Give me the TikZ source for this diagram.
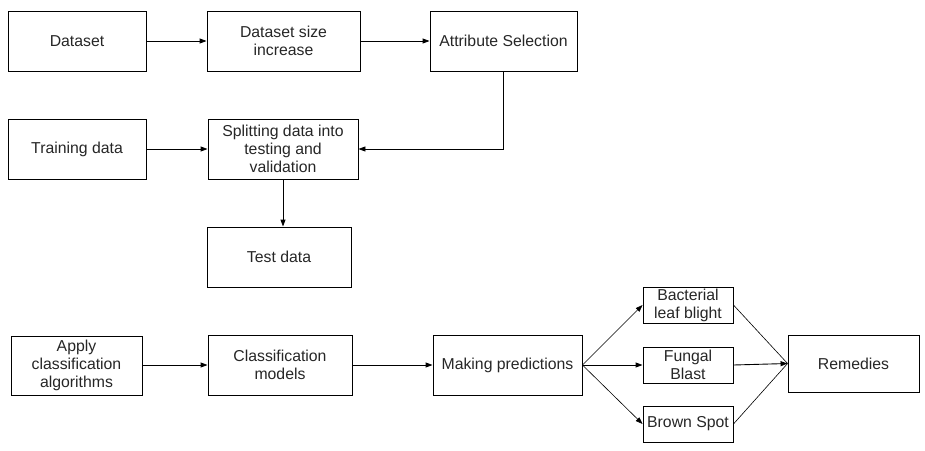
\documentclass[tikz,border=0pt]{standalone}
\usepackage{fontspec}
\setmainfont{Liberation Sans}
\usetikzlibrary{arrows.meta}
\begin{document}
\begin{tikzpicture}[x=1pt,y=-1pt,
  box/.style={draw, line width=0.9pt, inner sep=0pt, align=center,
    font=\fontsize{15.8}{18}\selectfont, text=black!85},
  small/.style={draw, line width=0.9pt, inner sep=0pt, align=center,
    font=\fontsize{15.8}{18}\selectfont, text=black!85, minimum width=90pt, minimum height=36pt},
  arr/.style={line width=0.9pt, -{Triangle[length=7pt,width=5pt]}},
  thin/.style={line width=0.6pt}]
\useasboundingbox (0,0) rectangle (925,450);
\node[box, minimum width=138pt, minimum height=60pt] (ds) at (77,41) {Dataset};
\node[box, minimum width=153pt, minimum height=60pt] (dsi) at (283.5,41) {Dataset size\\increase};
\node[box, minimum width=147pt, minimum height=60pt] (attr) at (503.5,41) {Attribute Selection};
\node[box, minimum width=138pt, minimum height=60pt] (train) at (77,149) {Training data};
\node[box, minimum width=150pt, minimum height=60pt] (split) at (283,149) {Splitting data into\\testing and\\validation};
\node[box, minimum width=144pt, minimum height=60pt] (test) at (279,257) {Test data};
\node[box, minimum width=131pt, minimum height=59pt] (apply) at (76.5,365.5) {Apply\\classification\\algorithms};
\node[box, minimum width=144pt, minimum height=60pt] (cls) at (280,365) {Classification\\models};
\node[box, minimum width=149pt, minimum height=60pt] (pred) at (507.5,365) {Making predictions};
\node[small] (bact) at (688,305) {Bacterial\\leaf blight};
\node[small] (fung) at (688,365) {Fungal\\Blast};
\node[small] (brown) at (688,424) {Brown Spot};
\node[box, minimum width=131pt, minimum height=57pt] (rem) at (853.5,363.5) {Remedies};

\draw[arr] (ds) -- (dsi);
\draw[arr] (dsi) -- (attr);
\draw[arr] (attr.south) |- (split.east);
\draw[arr] (train) -- (split);
\draw[arr] (split.south) -- (split.south |- test.north);
\draw[arr] (apply.east |- cls.west) -- (cls.west);
\draw[arr] (cls) -- (pred);
\draw[arr, line width=0.6pt] (pred.east) -- (bact.west);
\draw[arr] (pred.east) -- (fung.west);
\draw[arr, line width=0.6pt] (pred.east) -- (brown.west);
\draw[thin] (bact.east) -- (rem.west);
\draw[arr] (fung.east) -- (rem.west);
\draw[thin] (brown.east) -- (rem.west);
\end{tikzpicture}
\end{document}
